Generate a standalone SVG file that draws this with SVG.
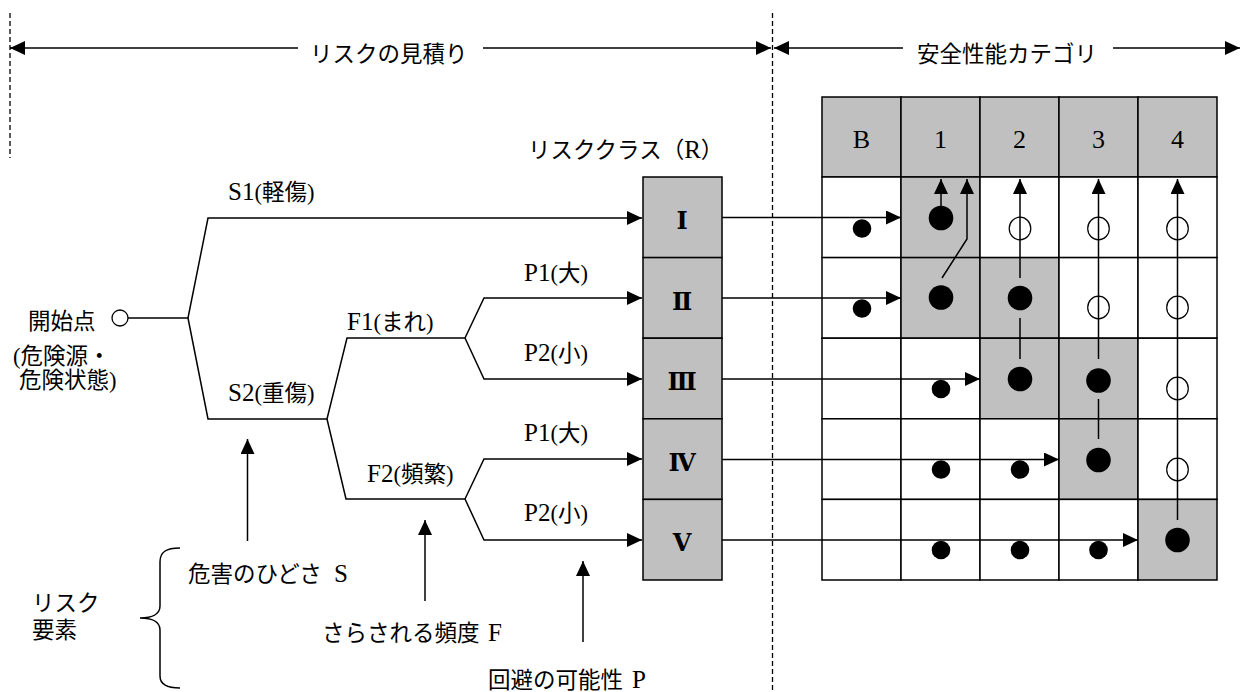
<svg xmlns="http://www.w3.org/2000/svg" width="1240" height="692" viewBox="0 0 1240 692">
<style>
.t{font-family:"Liberation Serif","Noto Sans CJK JP",serif;font-size:22.5px;fill:#000}
.l{font-size:25px}
.lab{font-family:"Liberation Serif",serif;font-size:26px;text-anchor:middle}
.rn{font-family:"DejaVu Serif","Noto Sans CJK JP",serif;font-size:24px;font-weight:bold;text-anchor:middle}
.ln{fill:none;stroke:#000;stroke-width:1.5}
.dash{fill:none;stroke:#000;stroke-width:1.3;stroke-dasharray:5,3}
.cell{fill:#fff;stroke:#000;stroke-width:1.5}
.g{fill:#c0c0c0}
.big{fill:#000}
.open{fill:none;stroke:#000;stroke-width:1.2}
</style>
<defs>
<marker id="ah" viewBox="0 0 15 14" refX="15" refY="7" markerWidth="15" markerHeight="14" markerUnits="userSpaceOnUse" orient="auto-start-reverse">
<path d="M0,0 L15,7 L0,14 z" fill="#000"/>
</marker>
</defs>
<rect width="1240" height="692" fill="#fff"/>

<g id="header">
<line class="dash" x1="10" y1="13" x2="10" y2="158"/>
<line class="dash" x1="772.5" y1="13" x2="772.5" y2="692"/>
<text class="t" x="310" y="62">リスクの見積り</text>
<text class="t" x="917" y="62">安全性能カテゴリ</text>
</g>

<g id="risk-class">
<text class="t" x="528" y="158">リスククラス（<tspan class="l">R</tspan>）</text>
<rect class="cell g" x="643" y="177" width="79" height="80.6"/>
<rect class="cell g" x="643" y="257.6" width="79" height="80.6"/>
<rect class="cell g" x="643" y="338.2" width="79" height="80.6"/>
<rect class="cell g" x="643" y="418.8" width="79" height="80.6"/>
<rect class="cell g" x="643" y="499.4" width="79" height="80.6"/>
<text class="rn" x="682" y="229">Ⅰ</text>
<text class="rn" x="682" y="309.6">Ⅱ</text>
<text class="rn" x="682" y="390.2">Ⅲ</text>
<text class="rn" x="682" y="470.8">Ⅳ</text>
<text class="rn" x="682" y="551.4">Ⅴ</text>
</g>

<g id="grid">
<g id="grid-header">
<rect class="cell g" x="822" y="97" width="79" height="80"/>
<rect class="cell g" x="901" y="97" width="79" height="80"/>
<rect class="cell g" x="980" y="97" width="79" height="80"/>
<rect class="cell g" x="1059" y="97" width="79" height="80"/>
<rect class="cell g" x="1138" y="97" width="79" height="80"/>
<text class="lab" x="861.5" y="148">B</text>
<text class="lab" x="940.5" y="148">1</text>
<text class="lab" x="1019.5" y="148">2</text>
<text class="lab" x="1098.5" y="148">3</text>
<text class="lab" x="1177.5" y="148">4</text>
</g>
<g id="grid-body">
<rect class="cell" x="822" y="177" width="79" height="80.6"/>
<rect class="cell g" x="901" y="177" width="79" height="80.6"/>
<rect class="cell" x="980" y="177" width="79" height="80.6"/>
<rect class="cell" x="1059" y="177" width="79" height="80.6"/>
<rect class="cell" x="1138" y="177" width="79" height="80.6"/>
<rect class="cell" x="822" y="257.6" width="79" height="80.6"/>
<rect class="cell g" x="901" y="257.6" width="79" height="80.6"/>
<rect class="cell g" x="980" y="257.6" width="79" height="80.6"/>
<rect class="cell" x="1059" y="257.6" width="79" height="80.6"/>
<rect class="cell" x="1138" y="257.6" width="79" height="80.6"/>
<rect class="cell" x="822" y="338.2" width="79" height="80.6"/>
<rect class="cell" x="901" y="338.2" width="79" height="80.6"/>
<rect class="cell g" x="980" y="338.2" width="79" height="80.6"/>
<rect class="cell g" x="1059" y="338.2" width="79" height="80.6"/>
<rect class="cell" x="1138" y="338.2" width="79" height="80.6"/>
<rect class="cell" x="822" y="418.8" width="79" height="80.6"/>
<rect class="cell" x="901" y="418.8" width="79" height="80.6"/>
<rect class="cell" x="980" y="418.8" width="79" height="80.6"/>
<rect class="cell g" x="1059" y="418.8" width="79" height="80.6"/>
<rect class="cell" x="1138" y="418.8" width="79" height="80.6"/>
<rect class="cell" x="822" y="499.4" width="79" height="80.6"/>
<rect class="cell" x="901" y="499.4" width="79" height="80.6"/>
<rect class="cell" x="980" y="499.4" width="79" height="80.6"/>
<rect class="cell" x="1059" y="499.4" width="79" height="80.6"/>
<rect class="cell g" x="1138" y="499.4" width="79" height="80.6"/>
</g>
</g>

<g id="start">
<circle cx="120" cy="318" r="8" fill="#fff" stroke="#000" stroke-width="1.3"/>
<text class="t" x="28" y="329">開始点</text>
<text class="t" x="13" y="364">(危険源・</text>
<text class="t" x="19" y="388">危険状態)</text>
</g>

<g id="branch-labels">
<text class="t" x="228" y="200"><tspan class="l">S1</tspan>(軽傷)</text>
<text class="t" x="228" y="401"><tspan class="l">S2</tspan>(重傷)</text>
<text class="t" x="347" y="330"><tspan class="l">F1</tspan>(まれ)</text>
<text class="t" x="367" y="482"><tspan class="l">F2</tspan>(頻繁)</text>
<text class="t" x="524" y="281"><tspan class="l">P1</tspan>(大)</text>
<text class="t" x="524" y="361"><tspan class="l">P2</tspan>(小)</text>
<text class="t" x="524" y="441"><tspan class="l">P1</tspan>(大)</text>
<text class="t" x="524" y="521"><tspan class="l">P2</tspan>(小)</text>
</g>

<g id="risk-elements">
<path class="ln" d="M180,548 C166,548 160,552 160,562 L160,606 C160,614 152,618 140,618 C152,618 160,622 160,630 L160,676 C160,684 166,688 180,688"/>
<text class="t" x="32" y="611">リスク</text>
<text class="t" x="32" y="638">要素</text>
<text class="t" x="188" y="582">危害のひどさ <tspan class="l" x="334">S</tspan></text>
<text class="t" x="322" y="641">さらされる頻度 <tspan class="l" x="488">F</tspan></text>
<text class="t" x="488" y="688">回避の可能性 <tspan class="l" x="632">P</tspan></text>
</g>

<g id="connectors">
<line class="ln" x1="10" y1="48" x2="298" y2="48" marker-start="url(#ah)"/>
<line class="ln" x1="483" y1="48" x2="771" y2="48" marker-end="url(#ah)"/>
<line class="ln" x1="774" y1="48" x2="903" y2="48" marker-start="url(#ah)"/>
<line class="ln" x1="1113" y1="48" x2="1240" y2="48" marker-end="url(#ah)"/>

<path class="ln" d="M128,318 L188,318 L208,218 L642,218" marker-end="url(#ah)"/>
<path class="ln" d="M188,318 L208,419 L327,419 L347,338 L465,338"/>
<path class="ln" d="M327,419 L346,499 L465,499"/>
<path class="ln" d="M465,338 L484,298 L642,298" marker-end="url(#ah)"/>
<path class="ln" d="M465,338 L484,379 L642,379" marker-end="url(#ah)"/>
<path class="ln" d="M465,499 L484,459 L642,459" marker-end="url(#ah)"/>
<path class="ln" d="M465,499 L484,540 L642,540" marker-end="url(#ah)"/>

<line class="ln" x1="247.5" y1="541" x2="247.5" y2="439" marker-end="url(#ah)"/>
<line class="ln" x1="425" y1="601" x2="425" y2="520" marker-end="url(#ah)"/>
<line class="ln" x1="583" y1="642" x2="583" y2="561" marker-end="url(#ah)"/>

<line class="ln" x1="722" y1="217.5" x2="901" y2="217.5" marker-end="url(#ah)"/>
<line class="ln" x1="722" y1="298" x2="901" y2="298" marker-end="url(#ah)"/>
<line class="ln" x1="722" y1="379" x2="980" y2="379" marker-end="url(#ah)"/>
<line class="ln" x1="722" y1="459.5" x2="1059" y2="459.5" marker-end="url(#ah)"/>
<line class="ln" x1="722" y1="540" x2="1138" y2="540" marker-end="url(#ah)"/>

<line class="ln" x1="941" y1="206" x2="941" y2="179" marker-end="url(#ah)"/>
<path class="ln" d="M942,278 L967,239 L967,179" marker-end="url(#ah)"/>
<line class="ln" x1="1020" y1="278" x2="1020" y2="179" marker-end="url(#ah)"/>
<line class="ln" x1="1020" y1="359" x2="1020" y2="318"/>
<line class="ln" x1="1098.5" y1="359" x2="1098.5" y2="179" marker-end="url(#ah)"/>
<line class="ln" x1="1098.5" y1="439" x2="1098.5" y2="399"/>
<line class="ln" x1="1177.5" y1="520" x2="1177.5" y2="179" marker-end="url(#ah)"/>
</g>

<g id="marks">
<circle class="big" cx="941" cy="218" r="12.3"/>
<circle class="big" cx="941" cy="297.5" r="12.3"/>
<circle class="big" cx="1020" cy="298" r="12.3"/>
<circle class="big" cx="1020" cy="379" r="12.3"/>
<circle class="big" cx="1098.5" cy="380.5" r="12.3"/>
<circle class="big" cx="1098.5" cy="460" r="12.3"/>
<circle class="big" cx="1177.5" cy="540" r="12.3"/>
<circle class="big" cx="862" cy="228.5" r="9.3"/>
<circle class="big" cx="862" cy="308.5" r="9.3"/>
<circle class="big" cx="941" cy="389" r="9.3"/>
<circle class="big" cx="941" cy="469.5" r="9.3"/>
<circle class="big" cx="1020" cy="469.5" r="9.3"/>
<circle class="big" cx="941" cy="550" r="9.3"/>
<circle class="big" cx="1020" cy="550" r="9.3"/>
<circle class="big" cx="1098.5" cy="550" r="9.3"/>
<ellipse class="open" cx="1020" cy="228.5" rx="10.8" ry="11.3"/>
<ellipse class="open" cx="1098.5" cy="228.5" rx="10.8" ry="11.3"/>
<ellipse class="open" cx="1177.5" cy="228.5" rx="10.8" ry="11.3"/>
<ellipse class="open" cx="1098.5" cy="307.5" rx="10.8" ry="11.3"/>
<ellipse class="open" cx="1177.5" cy="307.5" rx="10.8" ry="11.3"/>
<ellipse class="open" cx="1177.5" cy="388.5" rx="10.8" ry="11.3"/>
<ellipse class="open" cx="1177.5" cy="469.5" rx="10.8" ry="11.3"/>
</g>
</svg>
